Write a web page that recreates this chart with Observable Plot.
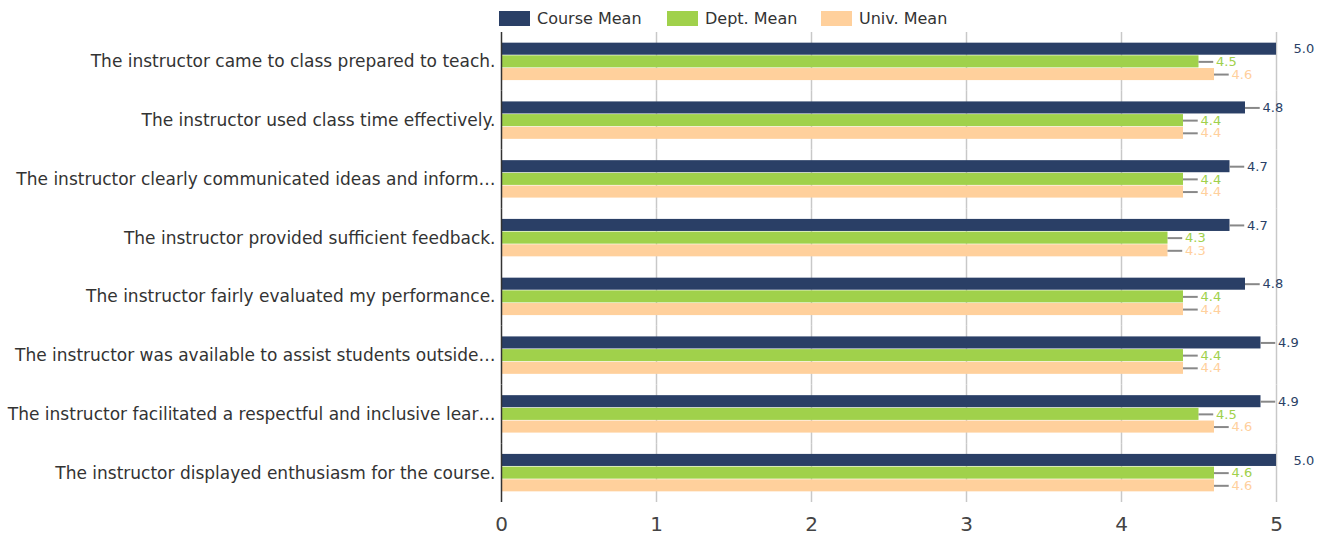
<!DOCTYPE html>
<html>
<head>
<meta charset="utf-8">
<script src="https://cdn.jsdelivr.net/npm/d3@7"></script>
<script src="https://cdn.jsdelivr.net/npm/@observablehq/plot@0.6"></script>
<style>
  body { margin: 0; background: #fff; font-family: "DejaVu Sans", sans-serif; }
  #legend { height: 32px; position: relative; font-size: 16px; color: #333; }
  .item { position: absolute; top: 10px; display: flex; align-items: center; height: 17px; }
  .sw { width: 31px; height: 15px; margin-right: 7px; }
  #chart svg { display: block; }
</style>
</head>
<body>
<div id="legend"></div>
<div id="chart"></div>
<script>
const questions = [
  "The instructor came to class prepared to teach.",
  "The instructor used class time effectively.",
  "The instructor clearly communicated ideas and inform…",
  "The instructor provided sufficient feedback.",
  "The instructor fairly evaluated my performance.",
  "The instructor was available to assist students outside…",
  "The instructor facilitated a respectful and inclusive lear…",
  "The instructor displayed enthusiasm for the course."
];
const series = ["Course Mean", "Dept. Mean", "Univ. Mean"];
const courseMean = [5.0, 4.8, 4.7, 4.7, 4.8, 4.9, 4.9, 5.0];
const deptMean   = [4.5, 4.4, 4.4, 4.3, 4.4, 4.4, 4.5, 4.6];
const univMean   = [4.6, 4.4, 4.4, 4.3, 4.4, 4.4, 4.6, 4.6];
const colors = ["#2a3f66", "#a0d14b", "#ffd09c"];
const xTicks = [0, 1, 2, 3, 4, 5];

const valuesBySeries = [courseMean, deptMean, univMean];
const rows = [];
questions.forEach((q, i) => {
  series.forEach((s, j) => rows.push({question: q, series: s, value: valuesBySeries[j][i]}));
});

// legend
const legend = document.getElementById("legend");
const legendX = [499, 667, 821];
series.forEach((s, j) => {
  const it = document.createElement("div");
  it.className = "item";
  it.style.left = legendX[j] + "px";
  it.innerHTML = `<div class="sw" style="background:${colors[j]}"></div><span>${s}</span>`;
  legend.appendChild(it);
});

const leaderLen = 0.095; // in x units (≈ 15px)
const chart = Plot.plot({
  width: 1322,
  height: 505,
  marginLeft: 501,
  marginRight: 46,
  marginTop: 0,
  marginBottom: 35,
  facet: {marginTop: 0, marginBottom: 0, marginLeft: 0, marginRight: 0},
  style: {fontFamily: "'DejaVu Sans', sans-serif", background: "#fff"},
  x: {domain: [0, 5], axis: null},
  fy: {domain: questions, padding: 0, round: false, axis: null},
  y: {domain: series, paddingInner: 0.05, paddingOuter: 0.84, round: false, axis: null},
  color: {domain: series, range: colors},
  marks: [
    Plot.ruleX(xTicks.slice(1), {stroke: "#c8c8c8", strokeWidth: 1.5}),
    Plot.barX(rows, {x: "value", y: "series", fy: "question", fill: "series"}),
    Plot.ruleY(rows.filter(d => d.value < 5), {
      x1: "value", x2: d => d.value + leaderLen, y: "series", fy: "question",
      stroke: "#888", strokeWidth: 2
    }),
    Plot.text(rows, {
      x: "value", y: "series", fy: "question", text: d => d.value.toFixed(1),
      fill: "series", dx: 17, textAnchor: "start", fontSize: 13
    }),
    Plot.ruleX([0], {stroke: "#333", strokeWidth: 1.5}),
    Plot.axisFy({anchor: "left", tickSize: 0, tickPadding: 6, fontSize: 17, color: "#333", label: null}),
    Plot.axisX(xTicks, {anchor: "bottom", tickSize: 0, tickPadding: 14, fontSize: 20, color: "#444", label: null, tickFormat: d3.format("d")})
  ]
});
document.getElementById("chart").appendChild(chart);
</script>
</body>
</html>
